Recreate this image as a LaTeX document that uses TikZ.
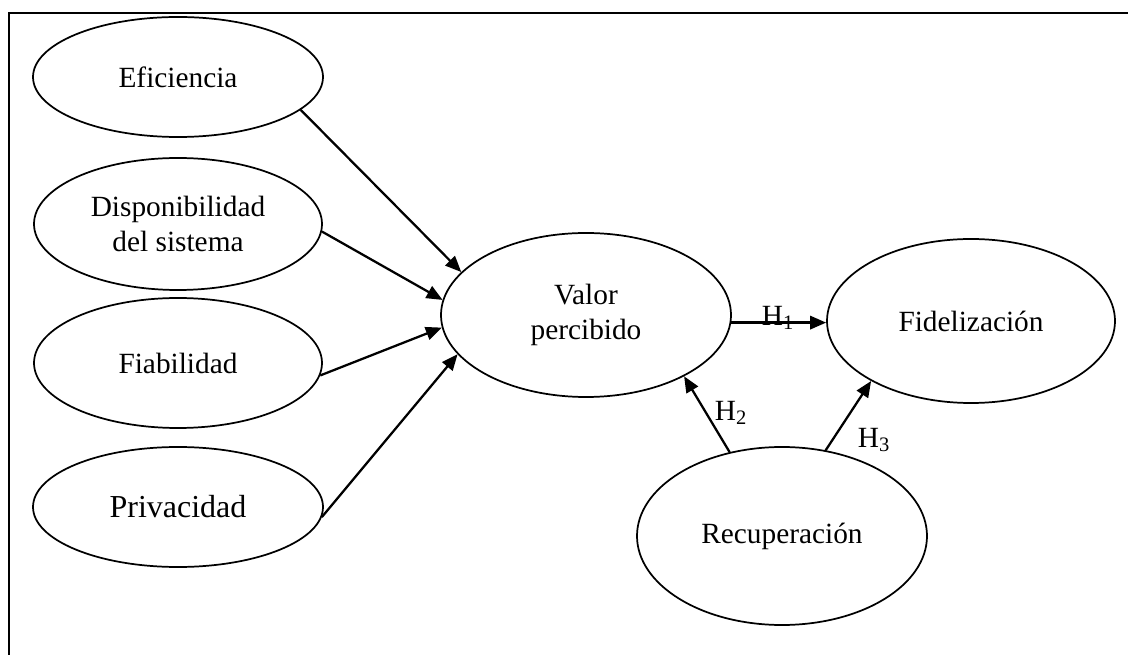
\documentclass[tikz,border=0pt]{standalone}
\usepackage{fontspec}
\setmainfont{Liberation Serif}
\usetikzlibrary{shapes.geometric,arrows.meta,calc}
\tikzset{
  construct/.style={ellipse,draw,line width=1.3pt,inner sep=0pt,align=center,
    font=\fontsize{22}{26}\selectfont},
  link/.style={line width=1.7pt,-{Triangle[length=12pt,width=10pt]}},
  hlabel/.style={font=\fontsize{22}{26}\selectfont,inner sep=0pt}
}
\begin{document}
\begin{tikzpicture}[x=0.75pt,y=-0.75pt]
\useasboundingbox (0,0) rectangle (1128,655);
\draw[line width=1.8pt] (9,655) -- (9,13) -- (1128,13);
\node[construct,minimum width=217.5pt,minimum height=90pt] (ef) at (178,77) {Eficiencia};
\node[construct,minimum width=216pt,minimum height=99pt] (di) at (178,224) {Disponibilidad\\del sistema};
\node[construct,minimum width=216pt,minimum height=97.5pt] (fa) at (178,363) {Fiabilidad};
\node[construct,minimum width=217.5pt,minimum height=90pt,font=\fontsize{24}{28}\selectfont] (pr) at (178,507) {Privacidad};
\node[construct,minimum width=217.5pt,minimum height=123pt] (vp) at (586,315) {Valor\\percibido};
\node[construct,minimum width=216pt,minimum height=123pt] (fi) at (971,321) {Fidelización};
\node[construct,minimum width=217.5pt,minimum height=133.5pt] (re) at (782,536) {Recuperación};
\draw[link] (ef.-15) -- (vp.161);
\draw[link] (di.-3) -- (vp.174);
\draw[link] (fa.-5) -- (vp.185);
\draw[link] (pr.-4) -- (vp.197);
\draw[link] (vp.-3) -- (vp.-3 -| fi.west);
\draw[link] (re.122) -- (vp.-32);
\draw[link] (re.63) -- (fi.211);
\node[hlabel] (h1) at (778,318) {H\textsubscript{1}};
\node[hlabel] (h2) at (731,413) {H\textsubscript{2}};
\node[hlabel] (h3) at (874,440) {H\textsubscript{3}};
\end{tikzpicture}
\end{document}
